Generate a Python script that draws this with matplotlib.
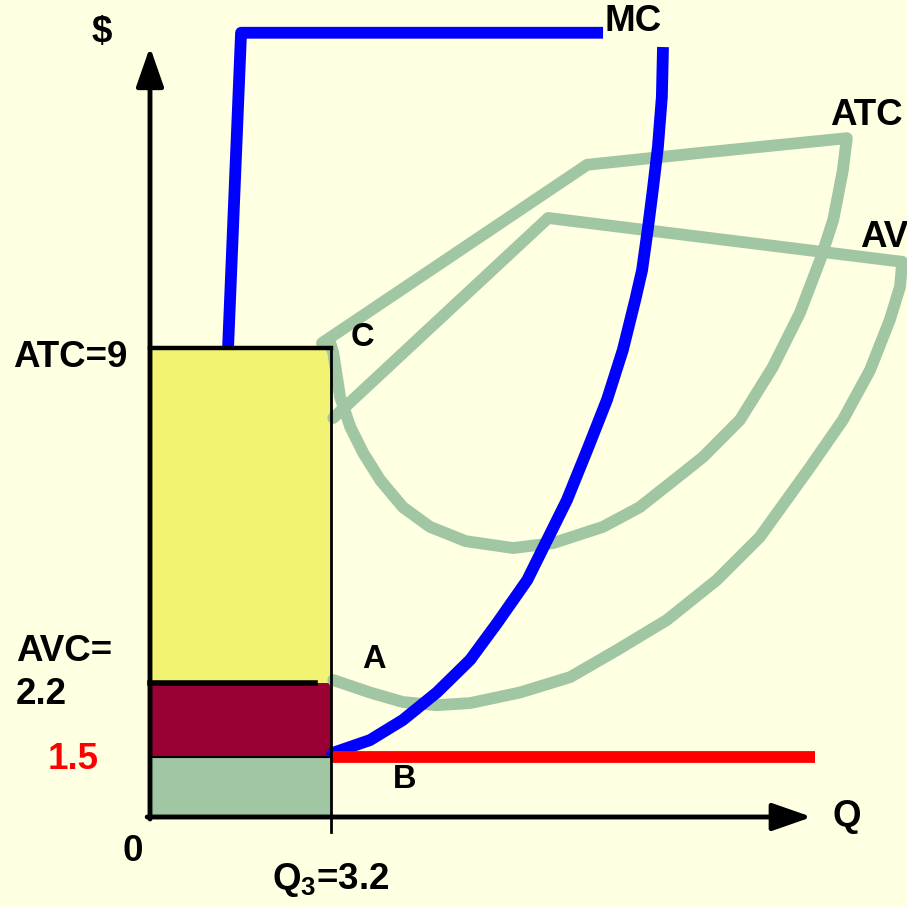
import numpy as np
import matplotlib.pyplot as plt

plt.rcParams['font.family'] = ['Liberation Sans', 'DejaVu Sans']
plt.rcParams['font.weight'] = 'bold'
plt.rcParams['mathtext.fontset'] = 'custom'
plt.rcParams['mathtext.rm'] = 'Liberation Sans:bold'
plt.rcParams['mathtext.bf'] = 'Liberation Sans:bold'
plt.rcParams['mathtext.it'] = 'Liberation Sans:bold'

# cost levels at the chosen output
q3 = 3.2
atc_q3 = 9
avc_q3 = 2.2
price = 1.5

# MC: short rising stub with a flat top, then the main rising branch
mc_top_q = [1.38, 1.61, 8.01]
mc_top_c = [9.0, 15.4, 15.4]
mc_q = [3.2, 3.24, 3.89, 4.47, 5.07, 5.66, 6.14, 6.67, 7.02, 7.37, 7.73,
        8.08, 8.36, 8.58, 8.70, 8.80, 8.89, 8.98, 9.05, 9.07]
mc_c = [1.5, 1.54, 1.66, 1.85, 2.11, 2.67, 3.42, 4.29, 5.10, 5.91, 6.93,
        7.95, 8.96, 9.98, 10.58, 11.40, 12.21, 13.08, 14.10, 15.11]

# ATC curve
atc_q = [3.04, 7.73, 9.72, 12.32, 12.25, 12.08, 11.85, 11.49, 11.01, 10.43,
         9.78, 9.42, 8.66, 8.01, 7.13, 6.42, 5.58, 4.95, 4.47,
         4.07, 3.77, 3.54, 3.36, 3.24, 3.2]
atc_c = [9.10, 12.72, 12.96, 13.26, 12.61, 11.60, 10.79, 9.71, 8.61, 7.54,
         6.79, 6.46, 5.77, 5.37, 5.04, 4.94, 5.08, 5.37, 5.77,
         6.32, 6.87, 7.40, 8.01, 8.90, 9.06]

# AVC curve
avc_q = [3.24, 7.04, 13.30, 13.26, 13.08, 12.73, 12.25, 11.67, 10.78,
         10.02, 9.14, 8.26, 7.43, 6.54, 5.66, 5.07, 4.47, 3.89, 3.24]
avc_c = [7.58, 11.64, 10.75, 10.24, 9.57, 8.55, 7.54, 6.58, 5.16,
         4.29, 3.48, 2.87, 2.32, 2.11, 2.01, 1.99, 2.02, 2.11, 2.26]

# price line
p_q = [q3, 11.76]

# piecewise-linear price axis (schematic spacing of the levels)
y_val = [-100, 0, 1.5, 2.2, 100]
y_pos = [-4000, 0, 60, 134, 134 + 97.8 * 49.26]


def fwd(v):
    return np.interp(v, y_val, y_pos)


def inv(p):
    return np.interp(p, y_pos, y_val)


bg = '#FFFFE2'
yellow = '#F3F373'
maroon = '#990033'
green = '#A0C6A4'
blue = '#0000FF'
red = '#FF0000'

fig = plt.figure(figsize=(9.07, 9.07), dpi=100)
fig.patch.set_facecolor(bg)
ax = fig.add_axes([0, 0, 1, 1])
ax.set_yscale('function', functions=(fwd, inv))
ax.set_xlim(-2.652, 13.384)
ax.set_ylim(-2.25, 16.065)
ax.axis('off')

# cost rectangles
ax.bar(0, price, width=q3, align='edge', color=green, zorder=1)
ax.bar(0, avc_q3 - price, bottom=price, width=q3, align='edge', color=maroon, zorder=1)
ax.bar(0, atc_q3 - avc_q3, bottom=avc_q3, width=q3, align='edge', color=yellow, zorder=1)

# curves
lw = 8.5
ax.plot(atc_q, atc_c, color=green, lw=lw, solid_joinstyle='round',
        solid_capstyle='round', zorder=2)
ax.plot(avc_q, avc_c, color=green, lw=lw, solid_joinstyle='round',
        solid_capstyle='round', zorder=2)
ax.plot(mc_top_q, mc_top_c, color=blue, lw=lw, solid_joinstyle='round',
        solid_capstyle='butt', zorder=3)
ax.plot(mc_q, mc_c, color=blue, lw=lw, solid_joinstyle='round',
        solid_capstyle='butt', zorder=3)
ax.plot(p_q, [price, price], color=red, lw=lw, solid_capstyle='butt', zorder=3)

# rectangle outlines
ax.plot([0, q3], [atc_q3, atc_q3], color='k', lw=3.2, zorder=4)
ax.plot([q3, q3], [-0.375, atc_q3], color='k', lw=2, zorder=4)
ax.plot([0, 2.92], [avc_q3, avc_q3], color='k', lw=4, zorder=4)
ax.plot([0, q3], [price, price], color='k', lw=1.5, zorder=4)

# axes with arrow heads
arrow = dict(arrowstyle='-|>,head_length=1.2,head_width=0.42', mutation_scale=20,
             lw=3.5, color='k', shrinkA=0, shrinkB=0)
ax.annotate('', xy=(0, 15.11), xytext=(0, -0.05), arrowprops=arrow, zorder=5)
ax.annotate('', xy=(11.70, 0), xytext=(-0.05, 0), arrowprops=arrow, zorder=5)

fs = 26.5
fs2 = 23.5
ax.text(-0.85, 15.4, '$', fontsize=fs, ha='center', va='center')
ax.text(12.06, 0, 'Q', fontsize=fs, ha='left', va='center')
ax.text(-0.30, -0.875, '0', fontsize=fs, ha='center', va='center')
ax.text(q3, -1.58, r'Q$_{3}$=3.2', fontsize=fs, ha='center', va='center')
ax.text(-0.39, 8.8, f'ATC={atc_q3}', fontsize=fs, ha='right', va='center')
ax.text(-2.37, 2.83, 'AVC=', fontsize=fs, ha='left', va='center')
ax.text(-2.37, 2.09, f'{avc_q3}', fontsize=fs, ha='left', va='center')
ax.text(-1.36, 1.43, f'{price}', fontsize=fs, ha='center', va='center', color=red)
ax.text(8.03, 15.62, 'MC', fontsize=fs, ha='left', va='center')
ax.text(12.66, 13.73, 'ATC', fontsize=fs, ha='center', va='center')
ax.text(12.55, 11.25, 'AV', fontsize=fs, ha='left', va='center')
ax.text(3.75, 9.22, 'C', fontsize=fs2, ha='center', va='center')
ax.text(3.96, 2.67, 'A', fontsize=fs2, ha='center', va='center')
ax.text(4.51, 0.93, 'B', fontsize=fs2, ha='center', va='center')

fig.savefig('out.png', dpi=100, facecolor=fig.get_facecolor())
